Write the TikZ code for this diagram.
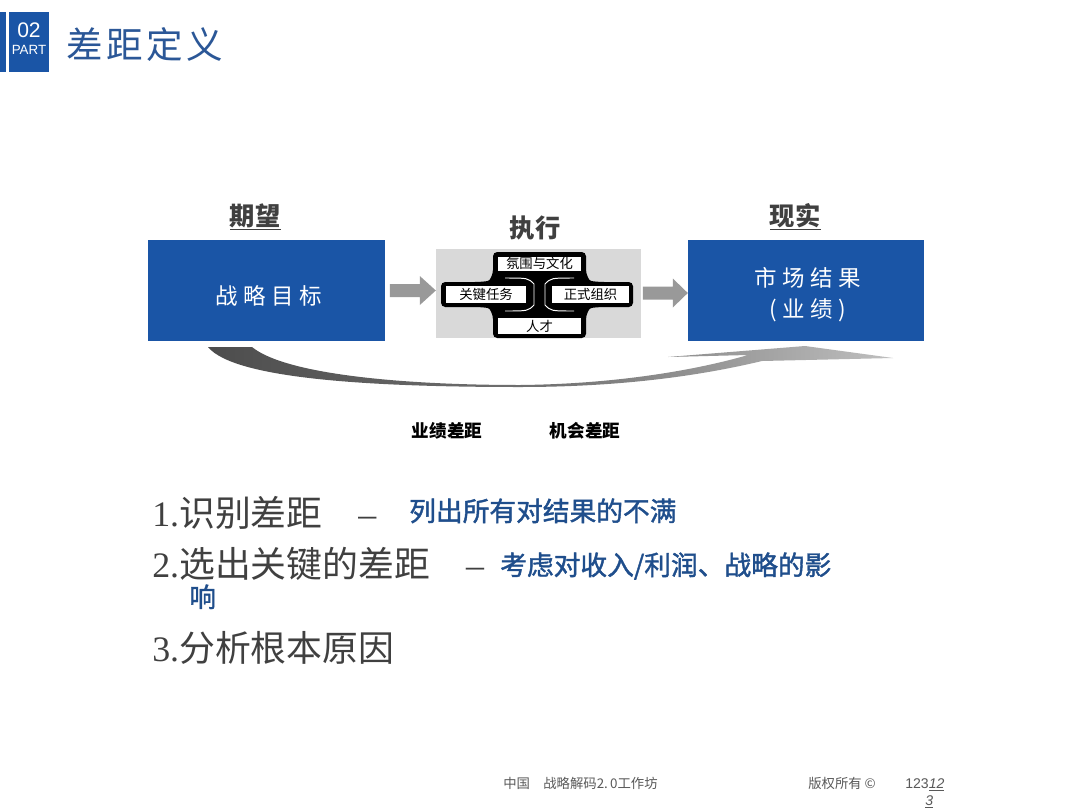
\documentclass[tikz,border=0pt]{standalone}
\usepackage{fontspec}
\setmainfont{Liberation Sans}
\newfontfamily\cjk{Noto Sans CJK SC}
\newfontfamily\cjkmed[FakeBold=1.5]{Noto Sans CJK SC}
\newfontfamily\cjkwide[LetterSpace=24]{Noto Sans CJK SC}
\newfontfamily\titlefont[LetterSpace=10]{Noto Sans CJK SC}
\newfontfamily\serifnum{Liberation Serif}
\usetikzlibrary{calc}
\definecolor{pblue}{HTML}{1A55A6}
\definecolor{titleblue}{HTML}{2B5797}
\definecolor{txtblue}{HTML}{1F4E8C}
\definecolor{darktxt}{HTML}{404040}
\definecolor{arrgray}{HTML}{999999}
\definecolor{panelgray}{HTML}{D9D9D9}
\definecolor{foot}{HTML}{595959}
\tikzset{
  bluebox/.style={fill=pblue, draw=none, text=white, minimum width=5.9cm, minimum height=2.525cm, inner sep=0pt, align=center},
  head/.style={text=darktxt, font=\cjk\bfseries\fontsize{18}{20}\selectfont, inner sep=0pt},
  execbox/.style={fill=white, draw=none, inner sep=0pt, font=\cjk\fontsize{9.5}{11}\selectfont},
  listtxt/.style={anchor=base west, inner sep=0pt, text=darktxt, font=\cjk\fontsize{25.5}{28}\selectfont},
  bluetxt/.style={anchor=base west, inner sep=0pt, text=txtblue, font=\cjkmed\fontsize{19}{22}\selectfont},
  gaplabel/.style={inner sep=0pt, font=\cjk\bfseries\fontsize{12.5}{14}\selectfont},
  foottxt/.style={anchor=base west, inner sep=0pt, text=foot, font=\cjk\fontsize{9.5}{11}\selectfont},
}
\begin{document}
\begin{tikzpicture}[x=0.025cm, y=-0.025cm]
\useasboundingbox (0,0) rectangle (1080,810);
\fill[white] (0,0) rectangle (1080,810);

% header
\fill[pblue] (0,12) rectangle (6,72);
\fill[pblue] (9,12) rectangle (49,72);
\node[text=white, inner sep=0pt, font=\fontsize{15}{16}\selectfont] (partnum) at (29,30) {02};
\node[text=white, inner sep=0pt, font=\fontsize{9.5}{10}\selectfont] (partlbl) at (29,50) {PART};
\node[anchor=west, inner sep=0pt, text=titleblue, font=\titlefont\fontsize{26}{30}\selectfont] (title) at (66,45) {差距定义};

% headings
\node[head] (expect) at (255,216) {期望};
\draw[darktxt, line width=0.8pt] (230,229.5) -- (281,229.5);
\node[head] (exec) at (535,228) {执行};
\node[head] (real) at (795,216) {现实};
\draw[darktxt, line width=0.8pt] (770,229.5) -- (821,229.5);

% blue boxes
\node[bluebox] (goal) at (266.5,290.5) {};
\node[text=white, font=\cjkwide\fontsize{16}{18}\selectfont, inner sep=0pt] (goaltxt) at (269,296) {战略目标};
\node[bluebox] (result) at (806,290.5) {};
\node[text=white, font=\cjkwide\fontsize{16}{18}\selectfont, inner sep=0pt] (restxt1) at (808,278) {市场结果};
\node[text=white, font=\cjkwide\fontsize{16}{18}\selectfont, inner sep=0pt] (restxt2) at (808,310) {(业绩)};

% execution panel
\node[fill=panelgray, minimum width=5.125cm, minimum height=2.225cm, inner sep=0pt] (panel) at (538.5,293.5) {};

% black joined frames
\fill[black, rounded corners=3]
  (493,252) -- (586,252) -- (586,274)
  .. controls (590,281) .. (600,282) -- (633,282) -- (633,307) -- (600,307)
  .. controls (590,308) .. (586,315) -- (586,338) -- (493,338) -- (493,315)
  .. controls (489,308) .. (479,307) -- (441,307) -- (441,282) -- (479,282)
  .. controls (489,281) .. (493,274) -- cycle;
\draw[white, line width=0.7pt] (505,278) .. controls (528,278) .. (534,284) -- (534,305) .. controls (528,311) .. (505,311);
\draw[white, line width=0.7pt] (574,278) .. controls (551,278) .. (545,284) -- (545,305) .. controls (551,311) .. (574,311);

\node[execbox, minimum width=2.075cm, minimum height=0.35cm] (culture) at (539.5,263.5) {氛围与文化};
\node[execbox, minimum width=2.0cm, minimum height=0.42cm] (task) at (486,294.5) {关键任务};
\node[execbox, minimum width=1.925cm, minimum height=0.42cm] (org) at (590.5,294.5) {正式组织};
\node[execbox, minimum width=2.075cm, minimum height=0.4cm] (talent) at (539.5,326) {人才};

% block arrows
\fill[arrgray] ($(goal.east)+(5,-6.5)$) -- ++(30,0) -- ++(0,-8) -- ++(16,14.5) -- ++(-16,14.5) -- ++(0,-8) -- ++(-30,0) -- cycle;
\fill[arrgray] ($(panel.east)+(1.5,-7)$) -- ++(30,0) -- ++(0,-8) -- ++(15,14.5) -- ++(-15,14.5) -- ++(0,-8) -- ++(-30,0) -- cycle;

% curved gap arrow
\shade[left color=black!70, right color=black!25, middle color=black!55]
  (208,347) .. controls (235,380) and (380,387) .. (520,387)
  .. controls (640,387) and (720,371) .. (762,361)
  -- (893,358) -- (805,346) -- (668,357) -- (748,355)
  .. controls (700,369) and (620,384) .. (520,385)
  .. controls (400,385) and (285,374) .. (252,347) -- cycle;

\node[gaplabel] (perfgap) at (447,431) {业绩差距};
\node[gaplabel] (oppgap) at (585,431) {机会差距};

% list
\node[listtxt] (l1) at (152,526) {{\serifnum 1.}识别差距\hspace{1.0em}{\serifnum –}};
\node[bluetxt] (l1b) at (409,521) {列出所有对结果的不满};
\node[listtxt] (l2) at (152,577) {{\serifnum 2.}选出关键的差距\hspace{1.0em}{\serifnum –}};
\node[bluetxt] (l2b) at (500,575) {考虑对收入/利润、战略的影};
\node[bluetxt] (l2c) at (189,607) {响};
\node[listtxt] (l3) at (152,661) {{\serifnum 3.}分析根本原因};

% footer
\node[foottxt] (f1) at (503,788) {中国\hspace{1em}战略解码2.\,0工作坊};
\node[foottxt] (f2) at (808,788) {版权所有 ©};
\node[foottxt, font=\fontsize{10}{11}\selectfont] (f3) at (905,788) {123\underline{\textit{12}}};
\node[foottxt, font=\fontsize{10}{11}\selectfont] (f4) at (925,805) {\underline{\textit{3}}};
\end{tikzpicture}
\end{document}
